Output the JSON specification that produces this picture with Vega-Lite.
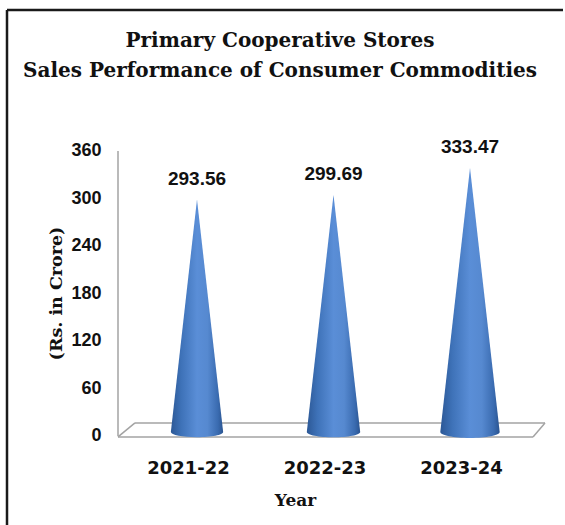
{
  "$schema": "https://vega.github.io/schema/vega-lite/v6.json",
  "width": 556,
  "height": 515,
  "autosize": {"type": "none"},
  "padding": {"left": 7, "top": 10, "right": 2, "bottom": 0},
  "background": "white",
  "title": {
    "text": ["Primary Cooperative Stores", "Sales Performance of Consumer Commodities"],
    "font": "DejaVu Serif",
    "fontSize": 20,
    "fontWeight": "bold",
    "color": "#111111",
    "anchor": "middle",
    "frame": "group",
    "offset": -72,
    "lineHeight": 30,
    "dx": -5
  },
  "data": {
    "values": [
      {"year": "2021-22", "sales": 293.56},
      {"year": "2022-23", "sales": 299.69},
      {"year": "2023-24", "sales": 333.47}
    ]
  },
  "layer": [
    {
      "data": {"values": [{}]},
      "mark": {"type": "rule", "color": "#a3a3a3", "strokeWidth": 1.5, "xOffset": -79},
      "encoding": {
        "x": {
          "datum": "2021-22",
          "type": "ordinal",
          "scale": {"type": "point", "domain": ["2021-22", "2022-23", "2023-24"], "range": [190, 463], "padding": 0},
          "axis": {
            "domain": false,
            "ticks": false,
            "grid": false,
            "offset": -66,
            "labelPadding": 0,
            "labelOffset": -9,
            "labelAngle": 0,
            "labelFont": "DejaVu Sans",
            "labelFontSize": 18,
            "labelFontWeight": "bold",
            "labelColor": "#111111",
            "title": "Year",
            "titleFont": "DejaVu Serif",
            "titleFontSize": 17,
            "titleFontWeight": "bold",
            "titleColor": "#111111",
            "titleX": 288,
            "titleY": 41,
            "titleBaseline": "middle",
            "titleAlign": "center"
          }
        },
        "y": {
          "datum": 360,
          "type": "quantitative",
          "scale": {"domain": [-112.5, 538.1], "nice": false, "zero": false},
          "axis": {
            "values": [0, 60, 120, 180, 240, 300, 360],
            "domain": false,
            "ticks": false,
            "grid": false,
            "offset": -99,
            "labelPadding": 5,
            "labelFont": "Liberation Sans",
            "labelFontSize": 18,
            "labelFontWeight": "bold",
            "labelColor": "#111111",
            "title": "(Rs. in Crore)",
            "titleFont": "DejaVu Serif",
            "titleFontSize": 17.5,
            "titleFontWeight": "bold",
            "titleColor": "#111111",
            "titleX": -50,
            "titleY": 283,
            "titleAngle": -90,
            "titleBaseline": "middle",
            "titleAlign": "center"
          }
        },
        "y2": {"datum": 0}
      }
    },
    {
      "data": {"values": [{}]},
      "mark": {"type": "rule", "color": "#1a1a1a", "strokeWidth": 2.5, "xOffset": -190, "x2Offset": 93},
      "encoding": {
        "x": {"datum": "2021-22", "type": "ordinal"},
        "x2": {"datum": "2023-24"},
        "y": {"datum": 538.1, "type": "quantitative"}
      }
    },
    {
      "data": {"values": [{}]},
      "mark": {"type": "rule", "color": "#1a1a1a", "strokeWidth": 2.5, "xOffset": -190},
      "encoding": {
        "x": {"datum": "2021-22", "type": "ordinal"},
        "y": {"datum": 538.1, "type": "quantitative"},
        "y2": {"datum": -112.5}
      }
    },
    {
      "data": {"values": [{}]},
      "mark": {"type": "rule", "color": "#a3a3a3", "strokeWidth": 1.5, "xOffset": -79, "x2Offset": 63, "yOffset": 1},
      "encoding": {
        "x": {"datum": "2021-22", "type": "ordinal"},
        "x2": {"datum": "2023-24"},
        "y": {"datum": 0, "type": "quantitative"}
      }
    },
    {
      "data": {"values": [{}]},
      "mark": {"type": "rule", "color": "#a3a3a3", "strokeWidth": 1.5, "xOffset": -62, "x2Offset": 75, "yOffset": -13},
      "encoding": {
        "x": {"datum": "2021-22", "type": "ordinal"},
        "x2": {"datum": "2023-24"},
        "y": {"datum": 0, "type": "quantitative"}
      }
    },
    {
      "data": {"values": [{}]},
      "mark": {"type": "rule", "color": "#a3a3a3", "strokeWidth": 1.5, "xOffset": -79, "x2Offset": -62, "yOffset": 1, "y2Offset": -13},
      "encoding": {
        "x": {"datum": "2021-22", "type": "ordinal"},
        "x2": {"datum": "2021-22"},
        "y": {"datum": 0, "type": "quantitative"},
        "y2": {"datum": 0}
      }
    },
    {
      "data": {"values": [{}]},
      "mark": {"type": "rule", "color": "#a3a3a3", "strokeWidth": 1.5, "xOffset": 63, "x2Offset": 75, "yOffset": 1, "y2Offset": -13},
      "encoding": {
        "x": {"datum": "2023-24", "type": "ordinal"},
        "x2": {"datum": "2023-24"},
        "y": {"datum": 0, "type": "quantitative"},
        "y2": {"datum": 0}
      }
    },
    {
      "mark": {
        "type": "point",
        "shape": "M0,0 L-0.225,2 A0.225,0.045 0 0 0 0.225,2 Z",
        "filled": true,
        "opacity": 1,
        "strokeWidth": 0,
        "yOffset": -4,
        "fill": {
          "gradient": "linear",
          "x1": 0, "y1": 0, "x2": 1, "y2": 0,
          "stops": [
            {"offset": 0, "color": "#2c5896"},
            {"offset": 0.2, "color": "#3e72b8"},
            {"offset": 0.5, "color": "#5a8ed7"},
            {"offset": 0.7, "color": "#5689d0"},
            {"offset": 0.9, "color": "#3a6bb0"},
            {"offset": 1, "color": "#2a5490"}
          ]
        }
      },
      "encoding": {
        "x": {"field": "year", "type": "ordinal"},
        "y": {"field": "sales", "type": "quantitative"},
        "size": {
          "field": "sales",
          "type": "quantitative",
          "scale": {"type": "pow", "exponent": 2, "domain": [0, 360], "range": [0, 81225]},
          "legend": null
        }
      }
    },
    {
      "mark": {
        "type": "text",
        "font": "Liberation Sans",
        "fontSize": 19,
        "fontWeight": "bold",
        "color": "#111111",
        "baseline": "alphabetic",
        "align": "center",
        "dy": -19
      },
      "encoding": {
        "x": {"field": "year", "type": "ordinal"},
        "y": {"field": "sales", "type": "quantitative"},
        "text": {"field": "sales", "type": "quantitative", "format": ".2f"}
      }
    }
  ],
  "config": {
    "view": {"stroke": null}
  }
}
